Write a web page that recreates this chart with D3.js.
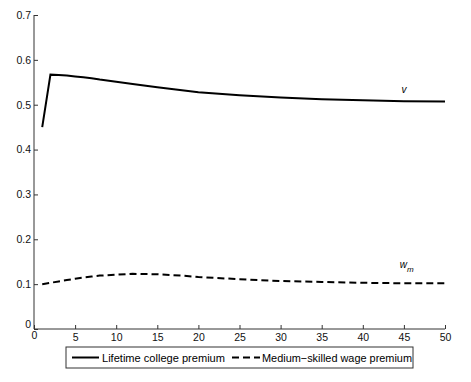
<!DOCTYPE html>
<html>
<head>
<meta charset="utf-8">
<script src="https://cdn.jsdelivr.net/npm/d3@7"></script>
<style>
  body { margin: 0; background: #fff; }
  svg { font-family: "Liberation Sans", Arial, sans-serif; }
  .line { fill: none; stroke: #000; stroke-width: 2px; }
  .dashed { stroke-dasharray: 7 4; }
  .axis path, .axis line { stroke: #333; }
  .axis text { font-size: 10.5px; fill: #111; }
</style>
</head>
<body>
<svg id="chart" width="471" height="382"></svg>
<script>
  // periods and series
  const periods = [1, 2, 3, 4, 5, 6, 7, 8, 10, 12, 15, 18, 20, 25, 30, 35, 40, 45, 50];
  const college = [0.450, 0.567, 0.566, 0.565, 0.563, 0.561, 0.559, 0.556, 0.551, 0.546, 0.539, 0.532, 0.528, 0.521, 0.516, 0.512, 0.510, 0.508, 0.507];
  const medium  = [0.100, 0.103, 0.106, 0.109, 0.112, 0.115, 0.117, 0.119, 0.121, 0.123, 0.122, 0.119, 0.116, 0.111, 0.107, 0.105, 0.103, 0.102, 0.102];
  const xTicks = [0, 5, 10, 15, 20, 25, 30, 35, 40, 45, 50];
  const yTicks = [0, 0.1, 0.2, 0.3, 0.4, 0.5, 0.6, 0.7];
  const legendLabels = ["Lifetime college premium", "Medium\u2212skilled wage premium"];

  const svg = d3.select("#chart");
  const x = d3.scaleLinear().domain([0, 50]).range([34, 445]);
  const y = d3.scaleLinear().domain([0, 0.7]).range([329, 15]);

  // axes, ticks pointing inward like matlab
  svg.append("g").attr("class", "axis")
    .attr("transform", "translate(0,329)")
    .call(d3.axisBottom(x).tickValues(xTicks).tickSize(-4).tickPadding(5).tickFormat(d3.format("d")))
    .call(g => g.select(".domain").attr("d", "M34,0H445"));

  svg.append("g").attr("class", "axis")
    .attr("transform", "translate(34,0)")
    .call(d3.axisLeft(y).tickValues(yTicks).tickSize(-4).tickPadding(3).tickFormat(d => d === 0 ? "0" : d3.format(".1f")(d)))
    .call(g => g.select(".domain").attr("d", "M0,15V329"));

  // nudge the two zeros apart as in the reference
  svg.selectAll(".axis text").filter(d => d === 0).attr("dy", function () {
    return d3.select(this.parentNode.parentNode).attr("transform").includes("329") ? "0.5em" : "-0.1em";
  });

  const line = d3.line().x((d, i) => x(periods[i])).y(d => y(d));

  svg.append("path").datum(college).attr("class", "line").attr("d", line);
  svg.append("path").datum(medium).attr("class", "line dashed").attr("d", line);

  // inline labels
  svg.append("text").attr("x", x(45)).attr("y", y(college[17]) - 8)
    .attr("font-size", 10).attr("font-style", "italic").attr("text-anchor", "middle").text("v");
  const wm = svg.append("text").attr("x", x(44.5)).attr("y", y(medium[17]) - 15)
    .attr("font-size", 10).attr("font-style", "italic");
  wm.append("tspan").text("w");
  wm.append("tspan").attr("dy", 4).attr("font-size", 8).text("m");

  // legend
  const lg = svg.append("g").attr("transform", "translate(66,347)");
  lg.append("rect").attr("width", 347).attr("height", 21).attr("fill", "#fff").attr("stroke", "#333");
  lg.append("line").attr("class", "line").attr("x1", 6).attr("x2", 33).attr("y1", 10.5).attr("y2", 10.5);
  lg.append("text").attr("x", 36).attr("y", 15).attr("font-size", 11.5)
    .attr("textLength", 123).attr("lengthAdjust", "spacingAndGlyphs").text(legendLabels[0]);
  lg.append("line").attr("class", "line dashed").attr("x1", 166).attr("x2", 194).attr("y1", 10.5).attr("y2", 10.5);
  lg.append("text").attr("x", 196).attr("y", 15).attr("font-size", 11.5)
    .attr("textLength", 150).attr("lengthAdjust", "spacingAndGlyphs").text(legendLabels[1]);
</script>
</body>
</html>
